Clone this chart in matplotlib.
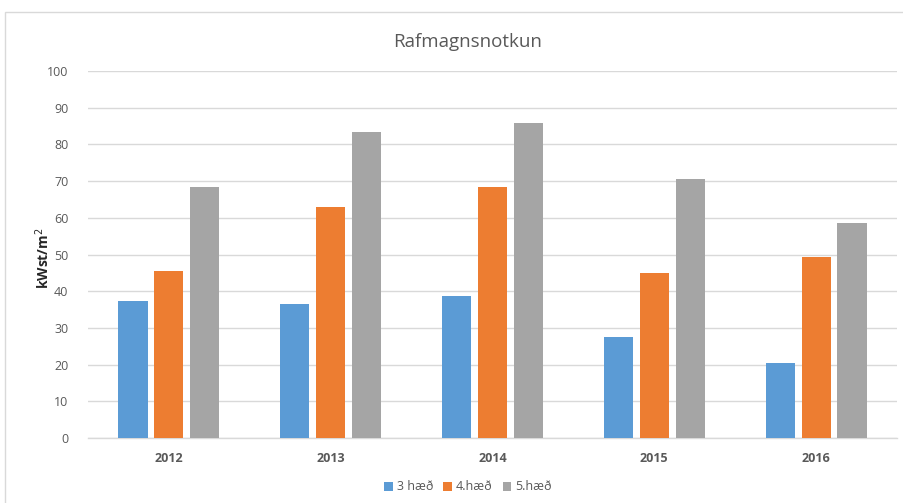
import numpy as np
import matplotlib.pyplot as plt
from matplotlib.patches import Rectangle

years = ['2012', '2013', '2014', '2015', '2016']
haed3 = [37.3, 36.5, 38.8, 27.5, 20.5]
haed4 = [45.4, 62.9, 68.3, 45.0, 49.3]
haed5 = [68.3, 83.4, 85.7, 70.6, 58.6]
labels = ['3 hæð', '4.hæð', '5.hæð']
colors = ['#5b9bd5', '#ed7d31', '#a5a5a5']

plt.rcParams['font.family'] = ['Open Sans', 'DejaVu Sans']

fig = plt.figure(figsize=(9.04, 5.03), dpi=100)
ax = fig.add_axes([88 / 904, 1 - 438 / 503, (897 - 88) / 904, (438 - 71) / 503])

# outer chart border
fig.patches.append(Rectangle((5 / 904, -0.01), 1.0, 1 - 12 / 503 + 0.01,
                             transform=fig.transFigure, fill=False,
                             edgecolor='#d9d9d9', linewidth=1))

x = np.arange(len(years))
w = 0.18
step = 0.222
for i, (vals, lab, c) in enumerate(zip([haed3, haed4, haed5], labels, colors)):
    ax.bar(x + (i - 1) * step, vals, width=w, color=c, label=lab, zorder=3)

ax.set_xlim(-0.5, len(years) - 0.5)
ax.set_ylim(0, 100)
ax.set_yticks(range(0, 101, 10))
ax.set_xticks(x)
ax.set_xticklabels(years, fontweight='bold')
ax.tick_params(axis='both', length=0, colors='#595959', labelsize=9)
ax.tick_params(axis='x', pad=10)
ax.tick_params(axis='y', pad=14)
ax.grid(axis='y', color='#d9d9d9', linewidth=1, zorder=0)
for s in ['top', 'right', 'left']:
    ax.spines[s].set_visible(False)
ax.spines['bottom'].set_color('#d9d9d9')
ax.spines['bottom'].set_linewidth(1)

ax.set_ylabel('kWst/m$^2$', fontweight='bold', fontsize=10, color='#262626')
ax.yaxis.set_label_coords(-0.045, 0.49)

fig.text(468 / 904, 1 - 42 / 503, 'Rafmagnsnotkun', ha='center', va='center',
         fontsize=13.5, color='#595959')

fig.legend(loc='center', bbox_to_anchor=(468 / 904, 1 - 487 / 503), ncol=3,
           frameon=False, fontsize=9, labelcolor='#595959',
           handlelength=0.7, handleheight=0.7, handletextpad=0.3, columnspacing=0.8)

fig.savefig('out.png', dpi=100)
